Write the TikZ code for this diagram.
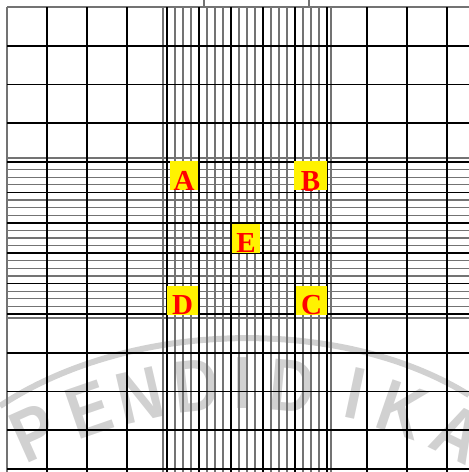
\documentclass[tikz,border=0pt]{standalone}
\usepackage{fontspec}
\setmainfont{Liberation Serif}
\newfontfamily\wmfont{Liberation Sans}
\tikzset{
  fineline/.style = {line width=1.1pt, black!55},
  mainline/.style = {line width=1.7pt, black},
  tagbox/.style   = {fill=yellow, text=red, inner sep=0pt, text height=29pt, text depth=0pt,
                     font=\fontsize{29}{29}\selectfont\bfseries},
  wmark/.style    = {text=black!18, inner sep=0pt, font=\wmfont\fontsize{74}{74}\selectfont\bfseries},
}
% one ruling across the whole chamber
\newcommand{\gridV}[2]{\draw[#1] (#2,7) -- (#2,472);}
\newcommand{\gridH}[2]{\draw[#1] (7,#2) -- (469,#2);}

\begin{document}
\begin{tikzpicture}[x=1pt, y=-1pt]
  \useasboundingbox (0,0) rectangle (469,472);
  % watermark
  \draw[black!18, line width=6pt] (0,406) .. controls (130,320) and (340,315) .. (469,395);
  \foreach \ch/\cx/\cy/\rot [count=\n] in {P/34/433/24, E/89/410/19, N/140/396/13,
      D/196/386/6, I/242/383/0, D/292/386/-5, I/355/393/-12, K/402/410/-19, A/458/434/-26}
    \node[wmark, rotate=\rot, xscale=0.85] (wm\n) at (\cx,\cy) {\ch};
  % fine rulings
  \foreach \x in {7,163,331} \gridV{fineline}{\x}
  \foreach \y in {7,158,318} \gridH{fineline}{\y}
  \foreach \k in {0,...,4}
    \foreach \j in {1,2,3} {
      \gridV{fineline}{167+32*\k+8*\j}
      \gridH{fineline}{162+30.4*\k+7.6*\j}
    }
  \draw[fineline] (204,0) -- (204,7);
  \draw[fineline] (309,0) -- (309,7);
  % main rulings
  \foreach \x in {47,87,127,167,199,231,263,295,327,367,407,447} \gridV{mainline}{\x}
  \foreach \y in {45.75,84.5,123.25,162,192.4,222.8,253.2,283.6,314,352.75,391.5,430.25,469}
    \gridH{mainline}{\y}
  % counting squares
  \foreach \tag/\cx/\cy/\w in {A/184/175.5/28, B/310.5/175.5/33, E/246/238/28,
      D/182.5/300/31, C/311.5/300/31}
    \node[tagbox, minimum width=\w pt] (box\tag) at (\cx,\cy) {\tag};
\end{tikzpicture}
\end{document}
